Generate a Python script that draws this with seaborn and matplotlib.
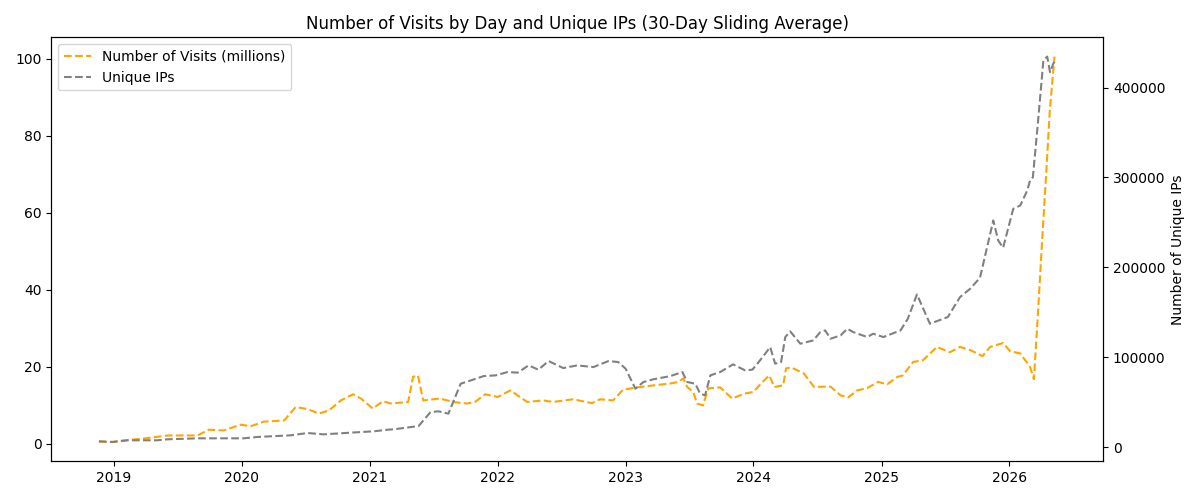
import matplotlib
matplotlib.use("Agg")
import matplotlib.pyplot as plt
import seaborn as sns
import pandas as pd

visit_dates = [
    "2018-11-19", "2018-12-23", "2019-01-29", "2019-03-27", "2019-06-04", "2019-08-28",
    "2019-09-28", "2019-11-10", "2019-12-29", "2020-01-27", "2020-03-04", "2020-05-01",
    "2020-06-03", "2020-07-08", "2020-08-08", "2020-09-06", "2020-10-10", "2020-11-14",
    "2020-12-06", "2021-01-09", "2021-02-07", "2021-03-01", "2021-04-20", "2021-05-04",
    "2021-05-18", "2021-06-02", "2021-07-20", "2021-08-26", "2021-10-05", "2021-10-28",
    "2021-11-26", "2022-01-01", "2022-02-06", "2022-03-26", "2022-05-11", "2022-06-08",
    "2022-08-04", "2022-09-27", "2022-10-20", "2022-11-26", "2022-12-25", "2023-02-04",
    "2023-03-21", "2023-05-09", "2023-05-31", "2023-06-15", "2023-06-26", "2023-07-13",
    "2023-07-24", "2023-08-10", "2023-08-25", "2023-09-28", "2023-11-01", "2023-12-08",
    "2024-01-01", "2024-01-23", "2024-02-15", "2024-03-01", "2024-03-26", "2024-04-03",
    "2024-04-17", "2024-05-24", "2024-06-22", "2024-08-08", "2024-09-06", "2024-09-28",
    "2024-10-23", "2024-11-21", "2024-12-22", "2025-01-17", "2025-02-15", "2025-03-03",
    "2025-04-01", "2025-04-29", "2025-06-08", "2025-07-15", "2025-08-13", "2025-09-13",
    "2025-10-16", "2025-11-07", "2025-12-14", "2026-01-03", "2026-02-01", "2026-03-01",
    "2026-03-12", "2026-03-23", "2026-04-04", "2026-04-16", "2026-04-26", "2026-05-04",
    "2026-05-10",
]
visits_millions = [
    0.5, 0.4, 0.8, 1.3, 2.1, 2.1,
    3.6, 3.4, 4.9, 4.5, 5.7, 6.0,
    9.5, 8.9, 7.8, 8.6, 11.2, 12.8,
    11.7, 9.1, 11.0, 10.4, 10.8, 17.3,
    17.7, 11.2, 11.7, 10.8, 10.4, 10.8,
    12.8, 12.1, 13.8, 10.8, 11.2, 10.8,
    11.5, 10.5, 11.5, 11.2, 14.0, 14.6,
    15.1, 15.6, 16.0, 16.9, 14.7, 13.4,
    10.4, 9.9, 14.3, 14.6, 11.7, 13.0,
    13.4, 15.6, 17.7, 14.7, 15.1, 19.5,
    19.8, 18.2, 14.7, 14.8, 12.5, 12.0,
    13.8, 14.4, 16.0, 15.4, 17.3, 17.7,
    21.2, 21.6, 25.1, 23.7, 25.1, 24.2,
    22.7, 25.1, 26.1, 24.0, 23.4, 19.9,
    16.7, 33.0, 52.0, 70.0, 86.0, 94.5,
    100.5,
]

ip_dates = [
    "2018-11-19", "2018-12-29", "2019-02-09", "2019-05-05", "2019-06-03", "2019-08-28",
    "2019-11-10", "2020-01-06", "2020-02-15", "2020-05-19", "2020-07-07", "2020-08-22",
    "2020-11-07", "2021-01-12", "2021-02-21", "2021-03-10", "2021-05-20", "2021-06-23",
    "2021-07-16", "2021-08-13", "2021-08-25", "2021-09-17", "2021-10-16", "2021-11-22",
    "2021-12-26", "2022-01-29", "2022-02-27", "2022-03-30", "2022-04-27", "2022-05-26",
    "2022-07-07", "2022-08-16", "2022-10-01", "2022-11-13", "2022-12-11", "2023-01-01",
    "2023-01-29", "2023-02-21", "2023-03-21", "2023-05-09", "2023-06-12", "2023-06-26",
    "2023-07-19", "2023-08-02", "2023-08-16", "2023-08-31", "2023-09-28", "2023-11-04",
    "2023-12-08", "2023-12-29", "2024-01-20", "2024-02-18", "2024-03-03", "2024-03-20",
    "2024-04-01", "2024-04-15", "2024-05-14", "2024-06-20", "2024-07-10", "2024-07-24",
    "2024-08-08", "2024-09-06", "2024-09-25", "2024-10-12", "2024-11-21", "2024-12-08",
    "2025-01-06", "2025-02-24", "2025-03-17", "2025-04-12", "2025-05-19", "2025-07-09",
    "2025-08-13", "2025-09-11", "2025-10-09", "2025-11-16", "2025-11-30", "2025-12-14",
    "2026-01-12", "2026-02-01", "2026-02-21", "2026-03-01", "2026-03-09", "2026-03-24",
    "2026-04-08", "2026-04-19", "2026-04-27", "2026-05-06", "2026-05-12",
]
unique_ips = [
    6700, 5900, 7800, 7800, 8900, 10000,
    10000, 10000, 11500, 13300, 15900, 14400,
    16300, 17800, 19600, 20000, 23700, 39200,
    40000, 37400, 48900, 70700, 74400, 79200,
    80000, 83700, 83000, 91100, 86300, 95900,
    88100, 91100, 89200, 95900, 94800, 87400,
    65200, 72600, 75600, 79200, 83700, 72600,
    70700, 59600, 57800, 80000, 83700, 92200,
    85600, 86300, 96700, 111400, 93000, 94800,
    122600, 128900, 115200, 118900, 128100, 130000,
    120700, 124400, 131900, 128100, 122600, 126300,
    122600, 130000, 143000, 170000, 137400, 144800,
    167000, 176300, 188500, 252200, 230000, 221900,
    265200, 268900, 285600, 296700, 300300, 363300,
    430000, 434400, 417000, 426300, 430000,
]

df_v = pd.DataFrame({"date": pd.to_datetime(visit_dates), "visits": visits_millions})
df_ip = pd.DataFrame({"date": pd.to_datetime(ip_dates), "ips": unique_ips})

fig, ax = plt.subplots(figsize=(12, 5), dpi=100)
sns.lineplot(data=df_v, x="date", y="visits", ax=ax, color="orange",
             linestyle="--", label="Number of Visits (millions)")
ax2 = ax.twinx()
sns.lineplot(data=df_ip, x="date", y="ips", ax=ax2, color="gray",
             linestyle="--", label="Unique IPs")

ax.set_xlabel("")
ax.set_ylabel("")
ax2.set_ylabel("Number of Unique IPs")
ax.set_title("Number of Visits by Day and Unique IPs (30-Day Sliding Average)")

h1, l1 = ax.get_legend_handles_labels()
h2, l2 = ax2.get_legend_handles_labels()
if ax2.get_legend() is not None:
    ax2.get_legend().remove()
ax.legend(h1 + h2, l1 + l2, loc="upper left")

fig.tight_layout()
fig.savefig("out.png", dpi=100)
